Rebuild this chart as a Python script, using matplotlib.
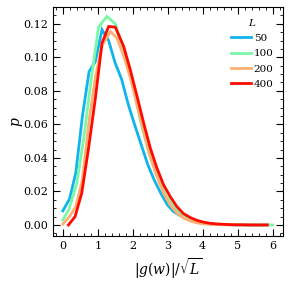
import matplotlib
matplotlib.use("Agg")
import matplotlib.pyplot as plt
from matplotlib.ticker import MultipleLocator, FormatStrFormatter

plt.rcParams['font.family'] = ['DejaVu Serif']
plt.rcParams['mathtext.fontset'] = 'dejavuserif'

labels = ["50", "100", "200", "400"]
colors = ["#10b4ec", "#7cf7a8", "#ffb070", "#ff0a00"]

x_50 = [0.00, 0.19, 0.37, 0.56, 0.75, 0.93, 1.12, 1.31, 1.49, 1.68, 1.87, 2.05, 2.24, 2.43, 2.61,
        2.80, 2.99, 3.17, 3.36, 3.55, 3.73, 3.92, 4.11, 4.29, 4.48, 4.67, 4.85, 5.04, 5.23, 5.41,
        5.60, 5.85]
p_50 = [0.0084, 0.0155, 0.031, 0.065, 0.0915, 0.0975, 0.1165, 0.110, 0.097, 0.087, 0.072, 0.060,
        0.048, 0.036, 0.027, 0.019, 0.012, 0.0079, 0.0055, 0.0035, 0.0022, 0.0013, 0.0008, 0.0005,
        0.0003, 0.0002, 0.0001, 0.0001, 0.0, 0.0, 0.0, 0.0]

x_100 = [0.00, 0.18, 0.40, 0.60, 0.80, 1.02, 1.26, 1.50, 1.74, 1.98, 2.22, 2.46, 2.70, 2.94, 3.18,
         3.42, 3.66, 3.90, 4.14, 4.38, 4.62, 4.86, 5.10, 5.34, 5.58, 5.82, 6.00]
p_100 = [0.003, 0.0096, 0.025, 0.052, 0.085, 0.118, 0.1244, 0.120, 0.105, 0.085, 0.062, 0.043,
         0.029, 0.018, 0.0105, 0.006, 0.0034, 0.0019, 0.001, 0.0005, 0.0003, 0.0002, 0.0001, 0.0,
         0.0, 0.0, 0.0]

x_200 = [0.00, 0.19, 0.37, 0.56, 0.75, 0.93, 1.12, 1.36, 1.55, 1.74, 1.93, 2.12, 2.31, 2.50, 2.69,
         2.88, 3.07, 3.26, 3.45, 3.64, 3.83, 4.02, 4.21, 4.40, 4.59, 4.78, 4.97, 5.16, 5.35, 5.85]
p_200 = [0.0005, 0.005, 0.011, 0.027, 0.062, 0.088, 0.107, 0.1154, 0.1114, 0.101, 0.088, 0.072,
         0.056, 0.041, 0.029, 0.019, 0.012, 0.0072, 0.0042, 0.0024, 0.0013, 0.0007, 0.0004, 0.0002,
         0.0001, 0.0001, 0.0, 0.0, 0.0, 0.0]

x_400 = [0.16, 0.35, 0.54, 0.73, 0.93, 1.12, 1.31, 1.50, 1.74, 1.93, 2.12, 2.31, 2.50, 2.69, 2.88,
         3.07, 3.26, 3.45, 3.64, 3.83, 4.02, 4.21, 4.40, 4.59, 4.78, 4.97, 5.16, 5.35, 5.54, 5.85]
p_400 = [0.0, 0.005, 0.019, 0.045, 0.0756, 0.1085, 0.1184, 0.118, 0.1065, 0.0925, 0.077, 0.061,
         0.046, 0.034, 0.024, 0.017, 0.011, 0.0068, 0.0045, 0.0028, 0.0017, 0.001, 0.0006, 0.0004,
         0.0002, 0.0001, 0.0001, 0.0, 0.0, 0.0]

xs = [x_50, x_100, x_200, x_400]
ps = [p_50, p_100, p_200, p_400]

fig = plt.figure(figsize=(2.9, 2.82), dpi=100)
ax = fig.add_axes([0.183, 0.163, 0.793, 0.812])

for x, p, lab, c in zip(xs, ps, labels, colors):
    ax.plot(x, p, color=c, lw=2.0, label=lab, solid_joinstyle='miter')

ax.set_xlim(-0.28, 6.3)
ax.set_ylim(-0.0066, 0.130)
ax.xaxis.set_major_locator(MultipleLocator(1))
ax.xaxis.set_minor_locator(MultipleLocator(0.2))
ax.yaxis.set_major_locator(MultipleLocator(0.02))
ax.yaxis.set_minor_locator(MultipleLocator(0.005))
ax.yaxis.set_major_formatter(FormatStrFormatter('%.2f'))
ax.tick_params(which='both', direction='in', top=True, right=True, labelsize=8)
ax.tick_params(which='major', length=5, width=0.8)
ax.tick_params(which='minor', length=2.5, width=0.6)

ax.set_xlabel(r'$|g(w)|/\sqrt{L}$', fontsize=10)
ax.set_ylabel(r'$p$', fontsize=10, labelpad=-1)

leg = ax.legend(title=r'$L$', loc='upper right', bbox_to_anchor=(1.0, 0.999),
                frameon=False, fontsize=7.5, title_fontsize=7.5, handlelength=1.9,
                handletextpad=0.25, labelspacing=0.58, borderaxespad=0.5)

fig.savefig('out.png', dpi=100)
